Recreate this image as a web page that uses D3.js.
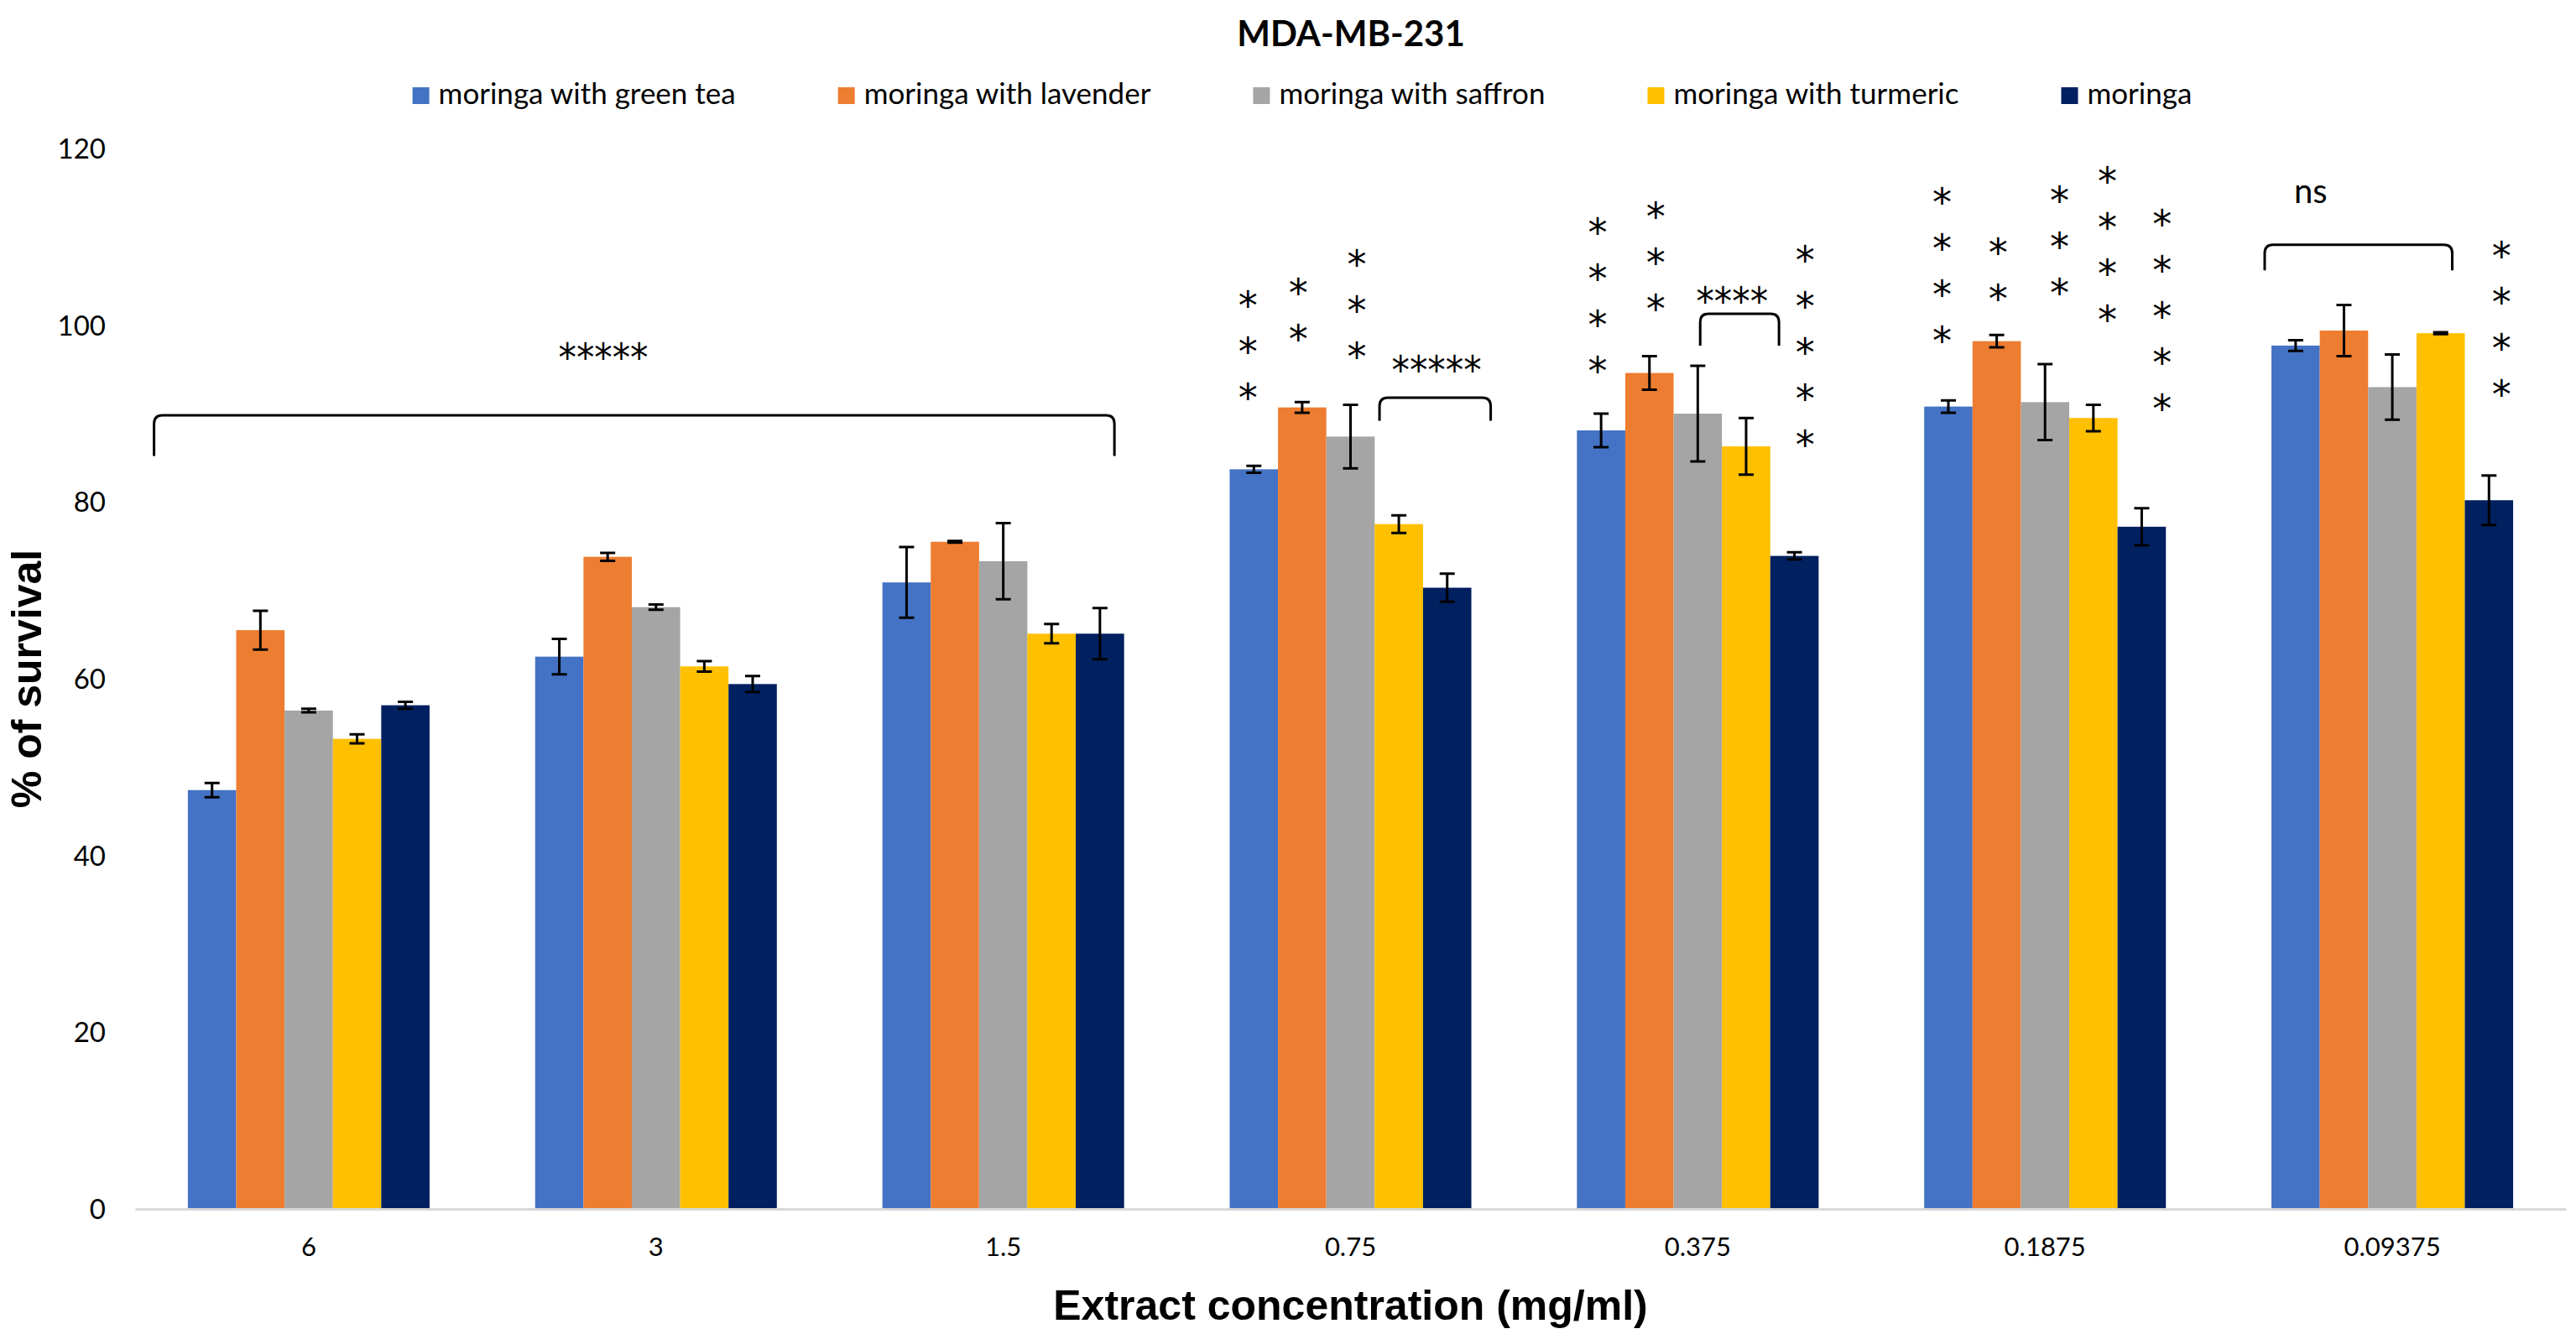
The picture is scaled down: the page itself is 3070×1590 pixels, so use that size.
<!DOCTYPE html>
<html>
<head>
<meta charset="utf-8">
<script src="https://cdn.jsdelivr.net/npm/d3@7"></script>
<style>
  body { margin: 0; background: #fff; }
  svg { display: block; }
</style>
</head>
<body>
<svg id="chart" width="3070" height="1590"></svg>
<script>
// chart data
const categories = ["6", "3", "1.5", "0.75", "0.375", "0.1875", "0.09375"];
const series = ["moringa with green tea", "moringa with lavender", "moringa with saffron", "moringa with turmeric", "moringa"];
const colors = ["#4472C4", "#ED7D31", "#A5A5A5", "#FFC000", "#002060"];

const greenTea = [47.4, 62.5, 70.9, 83.7, 88.1, 90.8, 97.7];
const greenTeaErr = [0.8, 2.0, 4.0, 0.4, 1.9, 0.7, 0.6];
const lavender = [65.5, 73.8, 75.5, 90.7, 94.6, 98.2, 99.4];
const lavenderErr = [2.2, 0.45, 0.1, 0.6, 1.9, 0.7, 2.9];
const saffron = [56.4, 68.1, 73.3, 87.4, 90.0, 91.3, 93.0];
const saffronErr = [0.2, 0.3, 4.3, 3.6, 5.4, 4.3, 3.7];
const turmeric = [53.2, 61.4, 65.1, 77.5, 86.3, 89.5, 99.1];
const turmericErr = [0.5, 0.6, 1.1, 1.0, 3.2, 1.5, 0.1];
const moringa = [57.0, 59.4, 65.1, 70.3, 73.9, 77.2, 80.2];
const moringaErr = [0.4, 0.9, 2.9, 1.6, 0.4, 2.1, 2.8];

const values = [greenTea, lavender, saffron, turmeric, moringa];
const errors = [greenTeaErr, lavenderErr, saffronErr, turmericErr, moringaErr];

const yTicks = [0, 20, 40, 60, 80, 100, 120];

// significance stars stacked in columns: category, slot (series index), top star value, count
const starColumns = [
  { cat: "0.75", slot: -0.12, top: 103.3, n: 3 },
  { cat: "0.75", slot: 0.92, top: 104.7, n: 2 },
  { cat: "0.75", slot: 2.13, top: 108.0, n: 3 },
  { cat: "0.375", slot: -0.07, top: 111.6, n: 4 },
  { cat: "0.375", slot: 1.13, top: 113.4, n: 3 },
  { cat: "0.375", slot: 4.22, top: 108.4, n: 5 },
  { cat: "0.1875", slot: -0.13, top: 115.0, n: 4 },
  { cat: "0.1875", slot: 1.03, top: 109.3, n: 2 },
  { cat: "0.1875", slot: 2.30, top: 115.2, n: 3 },
  { cat: "0.1875", slot: 3.29, top: 117.4, n: 4 },
  { cat: "0.1875", slot: 4.42, top: 112.5, n: 5 },
  { cat: "0.09375", slot: 4.26, top: 108.9, n: 4 }
];

// comparison brackets: ends as [category, slot], bar level, leg level, label and its anchor
const brackets = [
  { from: ["6", -1.2], to: ["1.5", 4.3], top: 89.8, leg: 85.2, label: "*****", at: ["3", 0.91], labelY: 97.4 },
  { from: ["0.75", 2.6], to: ["0.75", 4.9], top: 91.8, leg: 89.2, label: "*****", at: ["0.75", 3.78], labelY: 96.0 },
  { from: ["0.375", 2.05], to: ["0.375", 3.68], top: 101.3, leg: 97.7, label: "****", at: ["0.375", 2.71], labelY: 103.8 },
  { from: ["0.09375", -0.64], to: ["0.09375", 3.24], top: 109.1, leg: 106.2, label: "ns", at: ["0.09375", 0.31], labelY: 114.8 }
];

// layout
const margin = { left: 161, right: 12, top: 177, bottom: 149 };
const W = 3070, H = 1590;
const plotRight = W - margin.right;
const plotBottom = H - margin.bottom;

const bodyFont = "Lato, 'Open Sans', sans-serif";
const titleFont = "'Liberation Sans', Arial, sans-serif";
const starFont = "'DejaVu Sans', sans-serif";
const starSize = 46;
const starStep = 55;
const starAdvance = 21.4;

const svg = d3.select("#chart");

const x0 = d3.scaleBand()
  .domain(categories)
  .range([margin.left, plotRight])
  .paddingInner(0)
  .paddingOuter(0);

const x1 = d3.scaleBand()
  .domain(series)
  .range([0, x0.bandwidth()])
  .paddingInner(0)
  .paddingOuter(1.092);

const y = d3.scaleLinear()
  .domain([0, 120])
  .range([plotBottom, margin.top]);

// x position of a (fractional) bar slot inside a category
function slotX(cat, slot) {
  return x0(cat) + x1(series[0]) + (slot + 0.5) * x1.bandwidth();
}

// y axis labels
const yAxis = svg.append("g")
  .attr("transform", `translate(${margin.left},0)`)
  .call(d3.axisLeft(y).tickValues(yTicks).tickSize(0).tickPadding(35));
yAxis.select(".domain").remove();
yAxis.selectAll("text")
  .attr("dy", "0.35em")
  .style("font-family", bodyFont)
  .style("font-size", "33px")
  .style("fill", "#000");

// bars
const groups = svg.append("g").selectAll("g")
  .data(categories)
  .join("g")
  .attr("transform", d => `translate(${x0(d)},0)`);

groups.selectAll("rect")
  .data((c, ci) => series.map((s, si) => ({ s, si, v: values[si][ci], e: errors[si][ci] })))
  .join("rect")
  .attr("x", d => x1(d.s))
  .attr("y", d => y(d.v))
  .attr("width", x1.bandwidth())
  .attr("height", d => y(0) - y(d.v))
  .attr("fill", d => colors[d.si]);

// x axis
const xAxis = svg.append("g")
  .attr("transform", `translate(0,${plotBottom})`)
  .call(d3.axisBottom(x0).tickSize(0).tickSizeOuter(0).tickPadding(34));
xAxis.select(".domain")
  .attr("stroke", "#D9D9D9")
  .attr("stroke-width", 3);
xAxis.selectAll("text")
  .style("font-family", bodyFont)
  .style("font-size", "31px")
  .style("fill", "#000");

// error bars
const errG = svg.append("g")
  .attr("stroke", "#000")
  .attr("stroke-width", 3)
  .attr("fill", "none");
const capHalf = 9;
categories.forEach((c, ci) => {
  series.forEach((s, si) => {
    const cx = x0(c) + x1(s) + x1.bandwidth() / 2;
    const v = values[si][ci], e = errors[si][ci];
    const yt = y(v + e), yb = y(v - e);
    errG.append("path")
      .attr("d", `M${cx},${yt}V${yb}M${cx - capHalf},${yt}H${cx + capHalf}M${cx - capHalf},${yb}H${cx + capHalf}`);
  });
});

// star columns, one text per column
const starLift = 0.59 * starSize;
const starG = svg.append("g")
  .style("font-family", starFont)
  .style("font-size", starSize + "px")
  .attr("fill", "#000")
  .attr("text-anchor", "middle");
starColumns.forEach(col => {
  const cx = slotX(col.cat, col.slot);
  const t = starG.append("text")
    .attr("x", cx)
    .attr("y", y(col.top) + starLift);
  d3.range(col.n).forEach(k => {
    t.append("tspan")
      .attr("x", cx)
      .attr("dy", k === 0 ? 0 : starStep)
      .text("*");
  });
});

// brackets
const br = 10;
const brG = svg.append("g");
brackets.forEach(b => {
  const xa = slotX(b.from[0], b.from[1]);
  const xb = slotX(b.to[0], b.to[1]);
  const yt = y(b.top), yl = y(b.leg);
  brG.append("path")
    .attr("d", `M${xa},${yl}V${yt + br}Q${xa},${yt} ${xa + br},${yt}H${xb - br}Q${xb},${yt} ${xb},${yt + br}V${yl}`)
    .attr("fill", "none")
    .attr("stroke", "#000")
    .attr("stroke-width", 3);
  const lx = slotX(b.at[0], b.at[1]);
  if (b.label === "ns") {
    brG.append("text")
      .attr("x", lx)
      .attr("y", y(b.labelY) + 10)
      .attr("text-anchor", "middle")
      .style("font-family", bodyFont)
      .style("font-size", "40px")
      .text(b.label);
  } else {
    const len = b.label.length * starAdvance;
    brG.append("text")
      .attr("x", lx - len / 2)
      .attr("y", y(b.labelY) + starLift)
      .attr("textLength", len)
      .attr("lengthAdjust", "spacingAndGlyphs")
      .style("font-family", starFont)
      .style("font-size", starSize + "px")
      .text(b.label);
  }
});

// title
svg.append("text")
  .attr("x", 1610)
  .attr("y", 55)
  .attr("text-anchor", "middle")
  .style("font-family", bodyFont)
  .style("font-weight", "bold")
  .style("font-size", "42px")
  .text("MDA-MB-231");

// legend
const legend = svg.append("g");
const items = legend.selectAll("g")
  .data(series)
  .join("g");
items.append("rect")
  .attr("x", 0)
  .attr("y", -20)
  .attr("width", 20)
  .attr("height", 20)
  .attr("fill", (d, i) => colors[i]);
items.append("text")
  .attr("x", 31)
  .attr("y", 0)
  .style("font-family", bodyFont)
  .style("font-size", "35px")
  .text(d => d);

const legendGap = 122;
let cursor = 0;
const offsets = [];
items.each(function () {
  offsets.push(cursor);
  const w = 31 + d3.select(this).select("text").node().getComputedTextLength();
  cursor += w + legendGap;
});
const legendWidth = cursor - legendGap;
const legendStart = 1552 - legendWidth / 2;
items.attr("transform", (d, i) => `translate(${legendStart + offsets[i]},124)`);

// axis titles
svg.append("text")
  .attr("transform", `translate(49,${(margin.top + plotBottom) / 2}) rotate(-90)`)
  .attr("text-anchor", "middle")
  .style("font-family", titleFont)
  .style("font-weight", "bold")
  .style("font-size", "50px")
  .text("% of survival");

svg.append("text")
  .attr("x", (margin.left + plotRight) / 2)
  .attr("y", 1573)
  .attr("text-anchor", "middle")
  .style("font-family", titleFont)
  .style("font-weight", "bold")
  .style("font-size", "50px")
  .text("Extract concentration (mg/ml)");
</script>
</body>
</html>
